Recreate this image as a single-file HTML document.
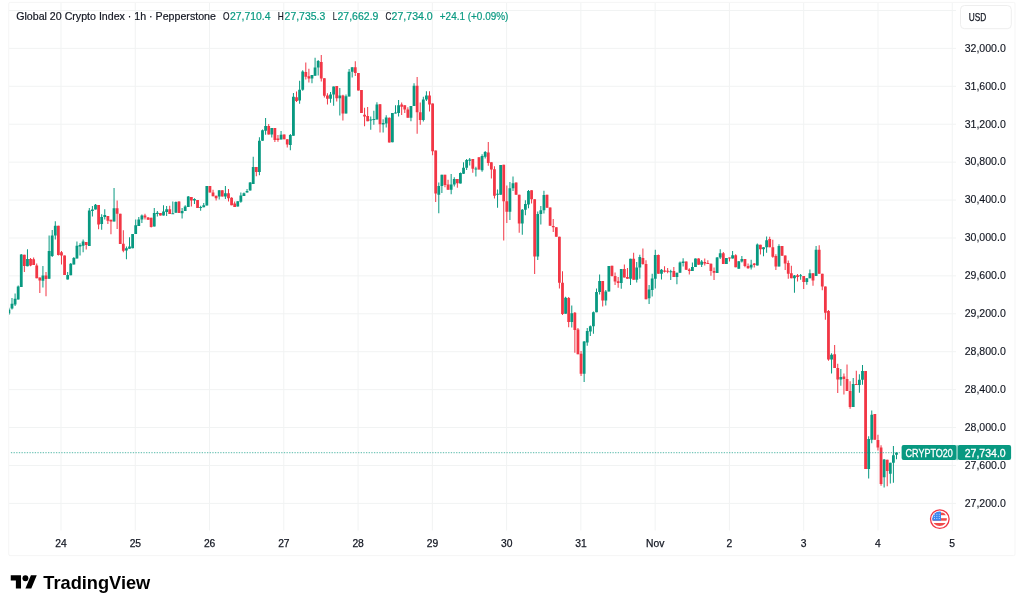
<!DOCTYPE html><html><head><meta charset="utf-8"><style>html,body{margin:0;padding:0;background:#fff;width:1024px;height:609px;overflow:hidden}svg{display:block;will-change:transform}text{font-family:"Liberation Sans", sans-serif}</style></head><body>
<svg width="1024" height="609" viewBox="0 0 1024 609">
<rect x="0" y="0" width="1024" height="609" fill="#ffffff"/>
<rect x="8.7" y="2.4" width="1006.3" height="553.2" rx="1.5" ry="1.5" fill="none" stroke="#f5f5f5" stroke-width="1"/>
<defs><clipPath id="pane"><rect x="9" y="3" width="947" height="527.5"/></clipPath></defs>
<path d="M9 10.45H956 M9 48.37H956 M9 86.29H956 M9 124.21H956 M9 162.13H956 M9 200.05H956 M9 237.97H956 M9 275.89H956 M9 313.81H956 M9 351.73H956 M9 389.65H956 M9 427.57H956 M9 465.49H956 M9 503.41H956 M61.00 3V530.5 M135.27 3V530.5 M209.54 3V530.5 M283.81 3V530.5 M358.08 3V530.5 M432.35 3V530.5 M506.62 3V530.5 M580.89 3V530.5 M655.16 3V530.5 M729.43 3V530.5 M803.70 3V530.5 M877.97 3V530.5 M952.24 3V530.5" stroke="#f1f3f3" stroke-width="1" fill="none"/>
<g clip-path="url(#pane)">
<path d="M8.40 307.80h1.00v7.20h-1.00z M11.49 297.90h1.00v11.50h-1.00z M14.59 293.50h1.00v12.60h-1.00z M17.68 285.60h1.00v14.00h-1.00z M20.77 254.10h1.00v32.80h-1.00z M26.96 249.20h1.00v17.00h-1.00z M42.42 265.90h1.00v21.70h-1.00z M48.61 235.50h1.00v43.20h-1.00z M51.70 230.10h1.00v26.80h-1.00z M54.79 221.20h1.00v18.20h-1.00z M67.16 272.00h1.00v7.40h-1.00z M70.25 263.00h1.00v12.30h-1.00z M73.35 257.00h1.00v7.60h-1.00z M76.44 241.60h1.00v17.00h-1.00z M79.53 243.30h1.00v12.30h-1.00z M82.62 239.50h1.00v12.80h-1.00z M88.81 208.00h1.00v38.00h-1.00z M91.90 206.00h1.00v10.50h-1.00z M95.00 203.90h1.00v5.70h-1.00z M101.18 214.20h1.00v15.50h-1.00z M104.27 209.30h1.00v10.20h-1.00z M113.55 188.00h1.00v33.50h-1.00z M125.92 246.60h1.00v12.60h-1.00z M129.02 237.20h1.00v11.50h-1.00z M132.11 233.90h1.00v14.30h-1.00z M135.20 219.50h1.00v14.40h-1.00z M138.29 217.00h1.00v9.00h-1.00z M141.39 214.60h1.00v8.40h-1.00z M153.76 208.10h1.00v18.40h-1.00z M156.85 211.00h1.00v5.50h-1.00z M163.03 205.20h1.00v10.40h-1.00z M166.13 206.10h1.00v10.00h-1.00z M172.31 201.60h1.00v12.30h-1.00z M175.41 201.60h1.00v11.10h-1.00z M181.59 208.10h1.00v10.30h-1.00z M184.68 205.20h1.00v5.80h-1.00z M187.78 196.00h1.00v11.00h-1.00z M193.96 198.30h1.00v5.80h-1.00z M200.15 205.80h1.00v4.90h-1.00z M203.24 202.90h1.00v4.40h-1.00z M206.33 185.90h1.00v19.60h-1.00z M218.70 190.30h1.00v9.20h-1.00z M224.89 185.90h1.00v13.00h-1.00z M237.26 201.20h1.00v5.40h-1.00z M240.35 192.40h1.00v10.30h-1.00z M243.45 192.60h1.00v3.40h-1.00z M246.54 189.10h1.00v3.50h-1.00z M249.63 181.90h1.00v8.70h-1.00z M252.72 156.80h1.00v27.20h-1.00z M258.91 137.20h1.00v38.10h-1.00z M262.00 129.50h1.00v11.20h-1.00z M265.09 118.10h1.00v16.70h-1.00z M271.28 128.10h1.00v9.50h-1.00z M280.56 130.90h1.00v8.70h-1.00z M289.84 134.00h1.00v16.20h-1.00z M292.93 93.00h1.00v42.80h-1.00z M299.11 80.70h1.00v23.00h-1.00z M302.21 70.20h1.00v20.60h-1.00z M311.48 75.10h1.00v8.10h-1.00z M314.58 57.70h1.00v18.10h-1.00z M317.67 59.90h1.00v15.50h-1.00z M330.04 91.90h1.00v10.90h-1.00z M333.13 86.60h1.00v19.20h-1.00z M339.32 88.00h1.00v27.60h-1.00z M345.50 94.40h1.00v19.20h-1.00z M348.60 69.00h1.00v27.60h-1.00z M351.69 67.30h1.00v10.30h-1.00z M370.25 116.40h1.00v13.30h-1.00z M373.34 110.80h1.00v14.00h-1.00z M376.43 102.20h1.00v17.30h-1.00z M382.62 119.20h1.00v13.30h-1.00z M385.71 115.20h1.00v12.30h-1.00z M391.89 112.90h1.00v29.30h-1.00z M394.99 105.20h1.00v8.20h-1.00z M398.08 100.00h1.00v16.40h-1.00z M410.45 105.90h1.00v15.40h-1.00z M413.54 83.30h1.00v22.60h-1.00z M422.82 96.80h1.00v24.70h-1.00z M425.91 91.30h1.00v9.70h-1.00z M438.29 182.50h1.00v30.70h-1.00z M441.38 174.80h1.00v18.10h-1.00z M450.66 174.10h1.00v20.20h-1.00z M453.75 177.20h1.00v9.20h-1.00z M459.93 172.40h1.00v11.20h-1.00z M463.03 162.20h1.00v11.90h-1.00z M466.12 159.00h1.00v10.90h-1.00z M469.21 158.00h1.00v7.40h-1.00z M475.40 166.80h1.00v9.80h-1.00z M481.58 154.30h1.00v17.40h-1.00z M484.68 150.90h1.00v7.60h-1.00z M497.05 189.50h1.00v18.20h-1.00z M500.14 165.10h1.00v29.60h-1.00z M509.42 181.90h1.00v38.20h-1.00z M512.51 176.60h1.00v14.40h-1.00z M521.79 209.10h1.00v25.70h-1.00z M524.88 200.30h1.00v14.90h-1.00z M527.97 190.00h1.00v18.30h-1.00z M537.25 211.60h1.00v48.30h-1.00z M540.34 206.00h1.00v18.40h-1.00z M543.44 190.70h1.00v22.80h-1.00z M565.09 296.70h1.00v17.00h-1.00z M571.27 305.60h1.00v22.00h-1.00z M583.64 341.00h1.00v41.10h-1.00z M586.73 327.90h1.00v17.90h-1.00z M589.83 325.40h1.00v10.60h-1.00z M592.92 311.50h1.00v22.30h-1.00z M596.01 288.60h1.00v23.70h-1.00z M599.11 274.40h1.00v20.10h-1.00z M605.29 290.00h1.00v15.50h-1.00z M608.38 265.90h1.00v25.60h-1.00z M620.75 269.00h1.00v19.80h-1.00z M630.03 258.80h1.00v26.10h-1.00z M636.22 262.00h1.00v20.60h-1.00z M639.31 254.70h1.00v24.10h-1.00z M648.59 285.00h1.00v18.90h-1.00z M651.68 273.80h1.00v22.70h-1.00z M654.77 249.80h1.00v38.80h-1.00z M660.96 269.00h1.00v10.40h-1.00z M670.24 269.70h1.00v10.40h-1.00z M676.42 272.70h1.00v11.60h-1.00z M679.52 261.60h1.00v11.10h-1.00z M682.61 258.20h1.00v8.40h-1.00z M691.89 262.40h1.00v8.70h-1.00z M694.98 258.50h1.00v8.60h-1.00z M701.16 259.90h1.00v7.00h-1.00z M716.63 257.00h1.00v16.00h-1.00z M719.72 249.30h1.00v9.80h-1.00z M725.91 258.00h1.00v6.00h-1.00z M732.09 251.00h1.00v7.40h-1.00z M738.28 261.20h1.00v7.60h-1.00z M741.37 256.00h1.00v6.60h-1.00z M750.65 259.80h1.00v9.70h-1.00z M756.83 243.40h1.00v22.00h-1.00z M763.02 247.20h1.00v9.10h-1.00z M766.11 236.50h1.00v16.20h-1.00z M778.48 244.30h1.00v22.30h-1.00z M793.95 275.00h1.00v17.70h-1.00z M800.13 274.10h1.00v5.60h-1.00z M806.32 278.30h1.00v6.40h-1.00z M809.41 269.40h1.00v8.90h-1.00z M815.59 245.90h1.00v30.00h-1.00z M831.06 353.30h1.00v20.20h-1.00z M840.34 369.00h1.00v16.80h-1.00z M852.71 378.00h1.00v29.00h-1.00z M858.89 374.20h1.00v18.60h-1.00z M861.99 365.10h1.00v19.60h-1.00z M868.17 436.30h1.00v42.10h-1.00z M871.26 410.50h1.00v32.80h-1.00z M883.63 459.00h1.00v28.50h-1.00z M889.82 462.80h1.00v20.60h-1.00z M892.91 446.10h1.00v36.60h-1.00z M896.00 452.40h1.00v6.90h-1.00z" fill="#089981"/>
<path d="M7.50 309.40h2.80v4.10h-2.80z M10.59 303.70h2.80v4.90h-2.80z M13.69 298.70h2.80v5.80h-2.80z M16.78 286.40h2.80v13.20h-2.80z M19.87 254.40h2.80v32.50h-2.80z M26.06 259.00h2.80v7.20h-2.80z M41.52 275.40h2.80v5.30h-2.80z M47.71 251.10h2.80v27.60h-2.80z M50.80 235.50h2.80v20.50h-2.80z M53.89 225.70h2.80v9.80h-2.80z M66.26 275.00h2.80v4.40h-2.80z M69.35 263.80h2.80v11.50h-2.80z M72.45 258.00h2.80v6.60h-2.80z M75.54 245.80h2.80v12.80h-2.80z M78.63 245.00h2.80v1.60h-2.80z M81.72 241.60h2.80v4.20h-2.80z M87.91 210.50h2.80v35.50h-2.80z M91.00 209.60h2.80v1.40h-2.80z M94.10 204.70h2.80v4.90h-2.80z M100.28 217.00h2.80v7.00h-2.80z M103.37 214.90h2.80v2.10h-2.80z M112.65 208.30h2.80v13.20h-2.80z M125.02 248.20h2.80v2.20h-2.80z M128.12 246.60h2.80v2.10h-2.80z M131.21 233.90h2.80v14.30h-2.80z M134.30 225.20h2.80v8.70h-2.80z M137.39 219.50h2.80v6.50h-2.80z M140.49 215.40h2.80v4.10h-2.80z M152.86 213.10h2.80v13.40h-2.80z M155.95 212.70h2.80v1.20h-2.80z M162.13 211.60h2.80v4.00h-2.80z M165.23 209.30h2.80v2.60h-2.80z M171.41 213.30h2.80v1.00h-2.80z M174.51 202.00h2.80v10.70h-2.80z M180.69 211.00h2.80v2.30h-2.80z M183.78 206.40h2.80v4.60h-2.80z M186.88 196.60h2.80v10.40h-2.80z M193.06 198.90h2.80v1.70h-2.80z M199.25 207.00h2.80v1.00h-2.80z M202.34 205.20h2.80v2.10h-2.80z M205.43 185.90h2.80v19.60h-2.80z M217.80 190.30h2.80v6.30h-2.80z M223.99 193.20h2.80v3.40h-2.80z M236.36 201.20h2.80v5.40h-2.80z M239.45 195.50h2.80v6.30h-2.80z M242.55 193.20h2.80v2.80h-2.80z M245.64 190.90h2.80v1.70h-2.80z M248.73 182.50h2.80v8.10h-2.80z M251.82 166.90h2.80v17.10h-2.80z M258.01 140.70h2.80v31.40h-2.80z M261.10 130.20h2.80v10.50h-2.80z M264.19 126.00h2.80v4.70h-2.80z M270.38 128.10h2.80v6.30h-2.80z M279.66 134.80h2.80v4.80h-2.80z M288.94 135.10h2.80v9.80h-2.80z M292.03 96.80h2.80v39.00h-2.80z M298.21 89.80h2.80v10.70h-2.80z M301.31 71.60h2.80v18.20h-2.80z M310.58 75.10h2.80v3.50h-2.80z M313.68 67.40h2.80v8.40h-2.80z M316.77 60.90h2.80v6.50h-2.80z M329.14 94.40h2.80v4.40h-2.80z M332.23 86.60h2.80v7.80h-2.80z M338.42 95.40h2.80v2.80h-2.80z M344.60 96.20h2.80v17.40h-2.80z M347.70 71.70h2.80v24.90h-2.80z M350.79 67.30h2.80v4.40h-2.80z M369.35 119.50h2.80v1.10h-2.80z M372.44 118.90h2.80v1.00h-2.80z M375.53 104.50h2.80v15.00h-2.80z M381.72 122.90h2.80v1.50h-2.80z M384.81 117.50h2.80v6.00h-2.80z M390.99 113.10h2.80v29.10h-2.80z M394.09 112.40h2.80v1.00h-2.80z M397.18 105.20h2.80v7.70h-2.80z M409.55 105.90h2.80v11.90h-2.80z M412.64 85.70h2.80v20.20h-2.80z M421.92 99.60h2.80v20.30h-2.80z M425.01 95.40h2.80v4.20h-2.80z M437.39 186.00h2.80v8.70h-2.80z M440.48 174.80h2.80v11.20h-2.80z M449.76 184.50h2.80v5.20h-2.80z M452.85 179.00h2.80v5.50h-2.80z M459.03 173.00h2.80v10.60h-2.80z M462.13 167.80h2.80v6.00h-2.80z M465.22 160.10h2.80v7.70h-2.80z M468.31 159.40h2.80v1.40h-2.80z M474.50 168.50h2.80v1.00h-2.80z M480.68 155.90h2.80v14.40h-2.80z M483.78 151.90h2.80v4.80h-2.80z M496.15 193.70h2.80v1.00h-2.80z M499.24 165.10h2.80v29.60h-2.80z M508.52 188.20h2.80v23.50h-2.80z M511.61 183.30h2.80v4.90h-2.80z M520.89 209.70h2.80v13.90h-2.80z M523.98 204.10h2.80v5.60h-2.80z M527.07 190.90h2.80v13.60h-2.80z M536.35 214.00h2.80v42.40h-2.80z M539.44 210.20h2.80v3.80h-2.80z M542.54 195.10h2.80v15.20h-2.80z M564.19 297.70h2.80v16.00h-2.80z M570.37 313.30h2.80v8.70h-2.80z M582.74 341.60h2.80v32.10h-2.80z M585.83 331.00h2.80v11.60h-2.80z M588.93 326.20h2.80v5.20h-2.80z M592.02 312.30h2.80v13.90h-2.80z M595.11 292.10h2.80v20.20h-2.80z M598.21 280.90h2.80v11.20h-2.80z M604.39 291.40h2.80v9.20h-2.80z M607.48 265.90h2.80v25.60h-2.80z M619.85 269.00h2.80v14.00h-2.80z M629.13 258.80h2.80v20.00h-2.80z M635.32 267.60h2.80v12.20h-2.80z M638.41 257.00h2.80v10.60h-2.80z M647.69 289.50h2.80v8.80h-2.80z M650.78 278.40h2.80v11.60h-2.80z M653.87 254.90h2.80v23.80h-2.80z M660.06 269.70h2.80v4.10h-2.80z M669.34 271.30h2.80v1.00h-2.80z M675.52 272.70h2.80v4.20h-2.80z M678.62 262.40h2.80v10.30h-2.80z M681.71 261.60h2.80v1.40h-2.80z M690.99 267.10h2.80v4.00h-2.80z M694.08 258.50h2.80v8.60h-2.80z M700.26 261.60h2.80v3.20h-2.80z M715.73 257.40h2.80v15.60h-2.80z M718.82 253.20h2.80v4.20h-2.80z M725.01 258.00h2.80v6.00h-2.80z M731.19 255.20h2.80v3.20h-2.80z M737.38 261.20h2.80v7.60h-2.80z M740.47 259.10h2.80v2.50h-2.80z M749.75 264.70h2.80v2.80h-2.80z M755.93 244.40h2.80v21.00h-2.80z M762.12 247.20h2.80v2.10h-2.80z M765.21 240.30h2.80v6.90h-2.80z M777.58 245.90h2.80v20.70h-2.80z M793.05 275.50h2.80v2.80h-2.80z M799.23 275.20h2.80v1.00h-2.80z M805.42 278.30h2.80v3.70h-2.80z M808.51 273.20h2.80v5.10h-2.80z M814.69 249.80h2.80v26.10h-2.80z M830.16 354.70h2.80v4.80h-2.80z M839.44 377.00h2.80v2.40h-2.80z M851.81 384.00h2.80v23.00h-2.80z M857.99 379.80h2.80v5.10h-2.80z M861.09 371.00h2.80v8.80h-2.80z M867.27 439.10h2.80v30.00h-2.80z M870.36 414.70h2.80v25.10h-2.80z M882.73 459.50h2.80v17.80h-2.80z M888.92 462.80h2.80v11.00h-2.80z M892.01 455.20h2.80v7.60h-2.80z M895.10 452.60h2.80v2.20h-2.80z" fill="#089981"/>
<path d="M23.86 254.70h1.00v17.40h-1.00z M30.05 258.00h1.00v8.20h-1.00z M33.14 257.40h1.00v7.70h-1.00z M36.23 263.40h1.00v14.80h-1.00z M39.33 277.40h1.00v15.60h-1.00z M45.51 272.10h1.00v24.20h-1.00z M57.88 225.70h1.00v29.90h-1.00z M60.98 251.00h1.00v13.60h-1.00z M64.07 255.60h1.00v19.40h-1.00z M85.72 242.10h1.00v7.30h-1.00z M98.09 205.00h1.00v24.30h-1.00z M107.37 215.90h1.00v8.10h-1.00z M110.46 219.80h1.00v14.50h-1.00z M116.64 200.60h1.00v28.40h-1.00z M119.74 213.70h1.00v30.40h-1.00z M122.83 230.20h1.00v22.10h-1.00z M144.48 213.70h1.00v5.80h-1.00z M147.57 217.00h1.00v2.80h-1.00z M150.66 217.80h1.00v9.80h-1.00z M159.94 213.00h1.00v2.60h-1.00z M169.22 205.80h1.00v8.10h-1.00z M178.50 201.20h1.00v11.80h-1.00z M190.87 197.00h1.00v9.60h-1.00z M197.05 200.00h1.00v8.10h-1.00z M209.43 185.90h1.00v6.70h-1.00z M212.52 189.70h1.00v6.60h-1.00z M215.61 195.80h1.00v4.80h-1.00z M221.80 190.30h1.00v6.30h-1.00z M227.98 188.90h1.00v12.70h-1.00z M231.07 197.20h1.00v8.00h-1.00z M234.17 201.60h1.00v5.40h-1.00z M255.82 166.90h1.00v9.40h-1.00z M268.19 124.00h1.00v10.40h-1.00z M274.37 128.10h1.00v14.00h-1.00z M277.46 135.10h1.00v6.70h-1.00z M283.65 134.40h1.00v4.90h-1.00z M286.74 139.30h1.00v8.10h-1.00z M296.02 91.60h1.00v10.30h-1.00z M305.30 62.60h1.00v17.00h-1.00z M308.39 68.80h1.00v13.60h-1.00z M320.76 54.90h1.00v26.50h-1.00z M323.86 78.20h1.00v19.30h-1.00z M326.95 93.30h1.00v11.10h-1.00z M336.23 86.00h1.00v15.60h-1.00z M342.41 94.70h1.00v25.80h-1.00z M354.78 61.30h1.00v14.60h-1.00z M357.88 73.10h1.00v17.50h-1.00z M360.97 89.90h1.00v23.00h-1.00z M364.06 107.80h1.00v18.40h-1.00z M367.15 106.90h1.00v14.40h-1.00z M379.52 104.10h1.00v28.40h-1.00z M388.80 117.50h1.00v25.00h-1.00z M401.17 102.40h1.00v12.60h-1.00z M404.27 105.20h1.00v7.70h-1.00z M407.36 107.30h1.00v10.50h-1.00z M416.64 77.00h1.00v56.80h-1.00z M419.73 102.40h1.00v22.40h-1.00z M429.01 91.30h1.00v20.20h-1.00z M432.10 103.40h1.00v51.90h-1.00z M435.19 150.60h1.00v51.40h-1.00z M444.47 174.80h1.00v12.50h-1.00z M447.56 179.70h1.00v10.00h-1.00z M456.84 179.00h1.00v8.80h-1.00z M472.30 159.00h1.00v13.70h-1.00z M478.49 157.30h1.00v12.30h-1.00z M487.77 142.10h1.00v23.70h-1.00z M490.86 162.30h1.00v16.10h-1.00z M493.95 166.20h1.00v32.40h-1.00z M503.23 164.80h1.00v75.60h-1.00z M506.32 185.40h1.00v37.50h-1.00z M515.60 182.60h1.00v12.10h-1.00z M518.70 194.70h1.00v38.00h-1.00z M531.07 190.20h1.00v13.30h-1.00z M534.16 199.20h1.00v74.70h-1.00z M546.53 194.80h1.00v12.90h-1.00z M549.62 207.40h1.00v18.40h-1.00z M552.72 219.10h1.00v13.00h-1.00z M555.81 227.20h1.00v9.50h-1.00z M558.90 236.70h1.00v51.90h-1.00z M561.99 271.20h1.00v43.90h-1.00z M568.18 297.00h1.00v30.20h-1.00z M574.36 312.00h1.00v40.80h-1.00z M577.46 327.90h1.00v26.30h-1.00z M580.55 350.90h1.00v25.10h-1.00z M602.20 280.90h1.00v25.70h-1.00z M611.48 265.80h1.00v10.80h-1.00z M614.57 272.40h1.00v12.50h-1.00z M617.66 277.00h1.00v10.70h-1.00z M623.85 264.40h1.00v13.00h-1.00z M626.94 267.90h1.00v10.90h-1.00z M633.13 252.80h1.00v27.00h-1.00z M642.40 248.40h1.00v16.40h-1.00z M645.50 260.20h1.00v39.10h-1.00z M657.87 254.50h1.00v19.30h-1.00z M664.05 266.20h1.00v6.30h-1.00z M667.15 268.00h1.00v5.20h-1.00z M673.33 266.90h1.00v10.00h-1.00z M685.70 261.60h1.00v8.40h-1.00z M688.79 268.30h1.00v6.20h-1.00z M698.07 258.20h1.00v6.60h-1.00z M704.26 258.50h1.00v7.00h-1.00z M707.35 260.20h1.00v3.90h-1.00z M710.44 263.50h1.00v12.30h-1.00z M713.54 267.40h1.00v12.60h-1.00z M722.81 252.10h1.00v11.90h-1.00z M729.00 257.40h1.00v4.20h-1.00z M735.18 254.20h1.00v13.00h-1.00z M744.46 259.10h1.00v8.10h-1.00z M747.56 263.50h1.00v5.30h-1.00z M753.74 263.00h1.00v4.50h-1.00z M759.93 244.80h1.00v9.80h-1.00z M769.20 236.80h1.00v10.40h-1.00z M772.30 239.70h1.00v18.10h-1.00z M775.39 254.30h1.00v15.60h-1.00z M781.57 245.90h1.00v9.80h-1.00z M784.67 255.40h1.00v14.50h-1.00z M787.76 260.60h1.00v18.10h-1.00z M790.85 265.80h1.00v12.50h-1.00z M797.04 274.10h1.00v7.40h-1.00z M803.22 276.00h1.00v12.90h-1.00z M812.50 273.20h1.00v12.50h-1.00z M818.69 245.20h1.00v28.60h-1.00z M821.78 273.80h1.00v16.40h-1.00z M824.87 286.40h1.00v33.30h-1.00z M827.97 309.90h1.00v50.80h-1.00z M834.15 344.90h1.00v23.00h-1.00z M837.24 363.70h1.00v29.30h-1.00z M843.43 373.50h1.00v20.90h-1.00z M846.52 364.40h1.00v26.50h-1.00z M849.61 381.20h1.00v27.50h-1.00z M855.80 370.70h1.00v14.20h-1.00z M865.08 371.00h1.00v98.10h-1.00z M874.36 414.00h1.00v25.80h-1.00z M877.45 434.80h1.00v15.60h-1.00z M880.54 445.20h1.00v40.50h-1.00z M886.73 459.70h1.00v26.60h-1.00z" fill="#F23645"/>
<path d="M22.96 254.70h2.80v11.20h-2.80z M29.15 259.00h2.80v6.60h-2.80z M32.24 259.30h2.80v5.80h-2.80z M35.33 265.60h2.80v12.60h-2.80z M38.43 277.40h2.80v3.00h-2.80z M44.61 275.40h2.80v3.60h-2.80z M56.98 225.70h2.80v29.30h-2.80z M60.08 252.30h2.80v3.30h-2.80z M63.17 255.60h2.80v19.40h-2.80z M84.82 242.10h2.80v2.90h-2.80z M97.19 205.00h2.80v19.40h-2.80z M106.47 215.90h2.80v4.90h-2.80z M109.56 219.80h2.80v1.70h-2.80z M115.74 208.30h2.80v5.40h-2.80z M118.84 213.70h2.80v30.40h-2.80z M121.93 243.80h2.80v6.90h-2.80z M143.58 215.40h2.80v2.10h-2.80z M146.67 217.50h2.80v2.30h-2.80z M149.76 217.80h2.80v9.20h-2.80z M159.04 213.00h2.80v2.60h-2.80z M168.32 209.30h2.80v4.60h-2.80z M177.60 201.60h2.80v11.40h-2.80z M189.97 197.00h2.80v3.60h-2.80z M196.15 200.00h2.80v8.10h-2.80z M208.53 185.90h2.80v6.70h-2.80z M211.62 192.60h2.80v3.70h-2.80z M214.71 195.80h2.80v2.50h-2.80z M220.90 190.30h2.80v6.30h-2.80z M227.08 193.20h2.80v5.10h-2.80z M230.17 197.80h2.80v7.40h-2.80z M233.27 203.50h2.80v3.50h-2.80z M254.92 166.90h2.80v5.20h-2.80z M267.29 126.00h2.80v8.40h-2.80z M273.47 128.10h2.80v11.90h-2.80z M276.56 138.60h2.80v1.40h-2.80z M282.75 134.40h2.80v4.90h-2.80z M285.84 139.30h2.80v5.30h-2.80z M295.12 97.20h2.80v3.70h-2.80z M304.40 72.00h2.80v4.80h-2.80z M307.49 76.20h2.80v2.40h-2.80z M319.86 61.90h2.80v16.70h-2.80z M322.96 78.20h2.80v17.60h-2.80z M326.05 95.40h2.80v3.40h-2.80z M335.33 86.00h2.80v12.20h-2.80z M341.51 95.50h2.80v18.00h-2.80z M353.88 67.30h2.80v5.80h-2.80z M356.98 73.10h2.80v17.50h-2.80z M360.07 89.90h2.80v23.00h-2.80z M363.16 114.70h2.80v1.70h-2.80z M366.25 116.10h2.80v5.20h-2.80z M378.62 104.30h2.80v20.00h-2.80z M387.90 117.70h2.80v24.80h-2.80z M400.27 104.50h2.80v2.30h-2.80z M403.37 105.20h2.80v4.20h-2.80z M406.46 109.40h2.80v8.40h-2.80z M415.74 85.70h2.80v26.50h-2.80z M418.83 112.20h2.80v7.70h-2.80z M428.11 95.40h2.80v9.10h-2.80z M431.20 103.40h2.80v47.90h-2.80z M434.29 150.60h2.80v43.00h-2.80z M443.57 174.80h2.80v10.20h-2.80z M446.66 184.50h2.80v5.20h-2.80z M455.94 179.00h2.80v4.20h-2.80z M471.40 159.00h2.80v9.80h-2.80z M477.59 157.30h2.80v12.30h-2.80z M486.87 152.60h2.80v10.40h-2.80z M489.96 162.30h2.80v7.30h-2.80z M493.05 169.30h2.80v26.50h-2.80z M502.33 164.80h2.80v36.50h-2.80z M505.42 201.30h2.80v10.40h-2.80z M514.70 182.60h2.80v12.10h-2.80z M517.80 194.70h2.80v28.90h-2.80z M530.17 190.20h2.80v9.10h-2.80z M533.26 199.20h2.80v57.20h-2.80z M545.63 194.80h2.80v12.90h-2.80z M548.72 207.40h2.80v18.40h-2.80z M551.82 226.10h2.80v1.10h-2.80z M554.91 227.20h2.80v9.50h-2.80z M558.00 236.70h2.80v46.10h-2.80z M561.09 282.80h2.80v31.20h-2.80z M567.28 298.10h2.80v23.90h-2.80z M573.46 312.80h2.80v17.20h-2.80z M576.56 329.60h2.80v24.60h-2.80z M579.65 353.70h2.80v20.00h-2.80z M601.30 280.90h2.80v19.70h-2.80z M610.58 265.80h2.80v10.20h-2.80z M613.67 276.00h2.80v5.60h-2.80z M616.76 281.20h2.80v1.80h-2.80z M622.95 269.00h2.80v8.40h-2.80z M626.04 277.00h2.80v1.80h-2.80z M632.23 258.80h2.80v21.00h-2.80z M641.50 257.90h2.80v6.10h-2.80z M644.60 264.00h2.80v35.30h-2.80z M656.97 254.90h2.80v18.90h-2.80z M663.15 270.40h2.80v1.40h-2.80z M666.25 270.80h2.80v1.00h-2.80z M672.43 271.10h2.80v5.80h-2.80z M684.80 261.60h2.80v8.10h-2.80z M687.89 269.40h2.80v1.70h-2.80z M697.17 258.50h2.80v6.30h-2.80z M703.36 262.00h2.80v1.40h-2.80z M706.45 263.00h2.80v1.10h-2.80z M709.54 263.80h2.80v7.10h-2.80z M712.64 270.90h2.80v1.90h-2.80z M721.91 253.20h2.80v10.80h-2.80z M728.10 257.40h2.80v1.00h-2.80z M734.28 255.20h2.80v12.00h-2.80z M743.56 259.10h2.80v7.00h-2.80z M746.66 266.10h2.80v2.10h-2.80z M752.84 263.50h2.80v1.40h-2.80z M759.03 244.80h2.80v4.50h-2.80z M768.30 239.00h2.80v8.20h-2.80z M771.40 247.30h2.80v9.50h-2.80z M774.49 256.00h2.80v10.60h-2.80z M780.67 245.90h2.80v9.80h-2.80z M783.77 255.40h2.80v8.00h-2.80z M786.86 263.00h2.80v10.80h-2.80z M789.95 273.20h2.80v5.10h-2.80z M796.14 275.20h2.80v1.70h-2.80z M802.32 276.00h2.80v6.00h-2.80z M811.60 273.20h2.80v7.30h-2.80z M817.79 249.80h2.80v24.00h-2.80z M820.88 273.80h2.80v12.80h-2.80z M823.97 286.60h2.80v26.10h-2.80z M827.07 311.00h2.80v48.50h-2.80z M833.25 354.20h2.80v13.70h-2.80z M836.34 367.90h2.80v11.50h-2.80z M842.53 376.60h2.80v2.50h-2.80z M845.62 379.10h2.80v11.80h-2.80z M848.71 390.90h2.80v16.10h-2.80z M854.90 384.00h2.80v1.00h-2.80z M864.18 371.00h2.80v98.10h-2.80z M873.46 414.00h2.80v25.80h-2.80z M876.55 440.10h2.80v7.50h-2.80z M879.64 447.40h2.80v36.60h-2.80z M885.83 459.70h2.80v11.30h-2.80z" fill="#F23645"/>
</g>
<path d="M10.9 452.7H901" stroke="#089981" stroke-width="1.3" stroke-opacity="0.55" stroke-dasharray="1.3 1.35" fill="none"/>
<text x="964.7" y="51.75" font-size="11" fill="#131722" stroke="#131722" stroke-width="0.15" textLength="41.1" lengthAdjust="spacingAndGlyphs">32,000.0</text>
<text x="964.7" y="89.65" font-size="11" fill="#131722" stroke="#131722" stroke-width="0.15" textLength="41.1" lengthAdjust="spacingAndGlyphs">31,600.0</text>
<text x="964.7" y="127.56" font-size="11" fill="#131722" stroke="#131722" stroke-width="0.15" textLength="41.1" lengthAdjust="spacingAndGlyphs">31,200.0</text>
<text x="964.7" y="165.46" font-size="11" fill="#131722" stroke="#131722" stroke-width="0.15" textLength="41.1" lengthAdjust="spacingAndGlyphs">30,800.0</text>
<text x="964.7" y="203.37" font-size="11" fill="#131722" stroke="#131722" stroke-width="0.15" textLength="41.1" lengthAdjust="spacingAndGlyphs">30,400.0</text>
<text x="964.7" y="241.27" font-size="11" fill="#131722" stroke="#131722" stroke-width="0.15" textLength="41.1" lengthAdjust="spacingAndGlyphs">30,000.0</text>
<text x="964.7" y="279.17" font-size="11" fill="#131722" stroke="#131722" stroke-width="0.15" textLength="41.1" lengthAdjust="spacingAndGlyphs">29,600.0</text>
<text x="964.7" y="317.08" font-size="11" fill="#131722" stroke="#131722" stroke-width="0.15" textLength="41.1" lengthAdjust="spacingAndGlyphs">29,200.0</text>
<text x="964.7" y="354.98" font-size="11" fill="#131722" stroke="#131722" stroke-width="0.15" textLength="41.1" lengthAdjust="spacingAndGlyphs">28,800.0</text>
<text x="964.7" y="392.89" font-size="11" fill="#131722" stroke="#131722" stroke-width="0.15" textLength="41.1" lengthAdjust="spacingAndGlyphs">28,400.0</text>
<text x="964.7" y="430.79" font-size="11" fill="#131722" stroke="#131722" stroke-width="0.15" textLength="41.1" lengthAdjust="spacingAndGlyphs">28,000.0</text>
<text x="964.7" y="468.69" font-size="11" fill="#131722" stroke="#131722" stroke-width="0.15" textLength="41.1" lengthAdjust="spacingAndGlyphs">27,600.0</text>
<text x="964.7" y="506.60" font-size="11" fill="#131722" stroke="#131722" stroke-width="0.15" textLength="41.1" lengthAdjust="spacingAndGlyphs">27,200.0</text>
<rect x="901.6" y="445.1" width="55" height="15" rx="2" fill="#089981"/>
<rect x="957.6" y="445.1" width="53.5" height="15" rx="2" fill="#089981"/>
<rect x="956.4" y="445.1" width="1.4" height="15" fill="#6cc3b3"/>
<text x="905.6" y="457.2" font-size="10.5" fill="#ffffff" stroke="#ffffff" stroke-width="0.3" textLength="47.3" lengthAdjust="spacingAndGlyphs">CRYPTO20</text>
<text x="964.7" y="456.7" font-size="11" fill="#ffffff" stroke="#ffffff" stroke-width="0.3" textLength="41" lengthAdjust="spacingAndGlyphs">27,734.0</text>
<rect x="960.5" y="5.5" width="50.8" height="23.2" rx="4" fill="#ffffff" stroke="#eeeeee" stroke-width="1"/>
<text x="968.7" y="20.8" font-size="11" fill="#131722" stroke="#131722" stroke-width="0.25" textLength="17.5" lengthAdjust="spacingAndGlyphs">USD</text>
<text x="61.10" y="547.3" font-size="10.3" fill="#131722" stroke="#131722" stroke-width="0.25" text-anchor="middle">24</text>
<text x="135.36" y="547.3" font-size="10.3" fill="#131722" stroke="#131722" stroke-width="0.25" text-anchor="middle">25</text>
<text x="209.62" y="547.3" font-size="10.3" fill="#131722" stroke="#131722" stroke-width="0.25" text-anchor="middle">26</text>
<text x="283.88" y="547.3" font-size="10.3" fill="#131722" stroke="#131722" stroke-width="0.25" text-anchor="middle">27</text>
<text x="358.14" y="547.3" font-size="10.3" fill="#131722" stroke="#131722" stroke-width="0.25" text-anchor="middle">28</text>
<text x="432.40" y="547.3" font-size="10.3" fill="#131722" stroke="#131722" stroke-width="0.25" text-anchor="middle">29</text>
<text x="506.66" y="547.3" font-size="10.3" fill="#131722" stroke="#131722" stroke-width="0.25" text-anchor="middle">30</text>
<text x="580.92" y="547.3" font-size="10.3" fill="#131722" stroke="#131722" stroke-width="0.25" text-anchor="middle">31</text>
<text x="655.18" y="547.3" font-size="10.3" fill="#131722" stroke="#131722" stroke-width="0.25" text-anchor="middle">Nov</text>
<text x="729.44" y="547.3" font-size="10.3" fill="#131722" stroke="#131722" stroke-width="0.25" text-anchor="middle">2</text>
<text x="803.70" y="547.3" font-size="10.3" fill="#131722" stroke="#131722" stroke-width="0.25" text-anchor="middle">3</text>
<text x="877.96" y="547.3" font-size="10.3" fill="#131722" stroke="#131722" stroke-width="0.25" text-anchor="middle">4</text>
<text x="952.22" y="547.3" font-size="10.3" fill="#131722" stroke="#131722" stroke-width="0.25" text-anchor="middle">5</text>
<text x="16.2" y="19.6" font-size="11" fill="#131722" stroke="#131722" stroke-width="0.2" textLength="199.7" lengthAdjust="spacingAndGlyphs">Global 20 Crypto Index · 1h · Pepperstone</text>
<text x="222.9" y="19.6" font-size="11" fill="#131722" stroke="#131722" stroke-width="0.2" textLength="6.50" lengthAdjust="spacingAndGlyphs">O</text>
<text x="229.9" y="19.6" font-size="11" fill="#089981" stroke="#089981" stroke-width="0.2" textLength="40.60" lengthAdjust="spacingAndGlyphs">27,710.4</text>
<text x="277.8" y="19.6" font-size="11" fill="#131722" stroke="#131722" stroke-width="0.2" textLength="6.00" lengthAdjust="spacingAndGlyphs">H</text>
<text x="284.6" y="19.6" font-size="11" fill="#089981" stroke="#089981" stroke-width="0.2" textLength="40.60" lengthAdjust="spacingAndGlyphs">27,735.3</text>
<text x="332.8" y="19.6" font-size="11" fill="#131722" stroke="#131722" stroke-width="0.2" textLength="4.20" lengthAdjust="spacingAndGlyphs">L</text>
<text x="337.5" y="19.6" font-size="11" fill="#089981" stroke="#089981" stroke-width="0.2" textLength="40.90" lengthAdjust="spacingAndGlyphs">27,662.9</text>
<text x="385.4" y="19.6" font-size="11" fill="#131722" stroke="#131722" stroke-width="0.2" textLength="5.85" lengthAdjust="spacingAndGlyphs">C</text>
<text x="391.6" y="19.6" font-size="11" fill="#089981" stroke="#089981" stroke-width="0.2" textLength="41.10" lengthAdjust="spacingAndGlyphs">27,734.0</text>
<text x="439.8" y="19.6" font-size="11" fill="#089981" stroke="#089981" stroke-width="0.2" textLength="68.60" lengthAdjust="spacingAndGlyphs">+24.1 (+0.09%)</text>
<g>
<circle cx="939.8" cy="519.1" r="9.3" fill="#ffffff" stroke="#F23645" stroke-width="1.3"/>
<clipPath id="fc"><circle cx="939.6" cy="518.8" r="7.3"/></clipPath>
<g clip-path="url(#fc)">
<rect x="932" y="511" width="16" height="16" fill="#ffffff"/>
<rect x="932" y="512.6" width="16" height="2.6" fill="#f04b4b"/>
<rect x="932" y="518.2" width="16" height="2.5" fill="#f04b4b"/>
<rect x="932" y="523" width="16" height="4" fill="#f04b4b"/>
<rect x="932" y="511" width="9" height="9.7" fill="#3b86f0"/>
<rect x="934.0" y="513.8" width="0.9" height="0.9" fill="#dbe9ff"/>
<rect x="934.0" y="515.9" width="0.9" height="0.9" fill="#dbe9ff"/>
<rect x="934.0" y="518.1" width="0.9" height="0.9" fill="#dbe9ff"/>
<rect x="936.4" y="513.8" width="0.9" height="0.9" fill="#dbe9ff"/>
<rect x="936.4" y="515.9" width="0.9" height="0.9" fill="#dbe9ff"/>
<rect x="936.4" y="518.1" width="0.9" height="0.9" fill="#dbe9ff"/>
<rect x="938.8" y="513.8" width="0.9" height="0.9" fill="#dbe9ff"/>
<rect x="938.8" y="515.9" width="0.9" height="0.9" fill="#dbe9ff"/>
<rect x="938.8" y="518.1" width="0.9" height="0.9" fill="#dbe9ff"/>
</g></g>
<g transform="translate(10.75 572.37) scale(0.733)" fill="#000000"><path d="M14 22H7V11H0V4h14v18zM28 22h-8l7.5-18h8L28 22z"/><circle cx="20" cy="8" r="4"/></g>
<text x="43.3" y="588.6" font-size="18.4" font-weight="bold" fill="#000000" textLength="107" lengthAdjust="spacingAndGlyphs">TradingView</text>
</svg></body></html>
